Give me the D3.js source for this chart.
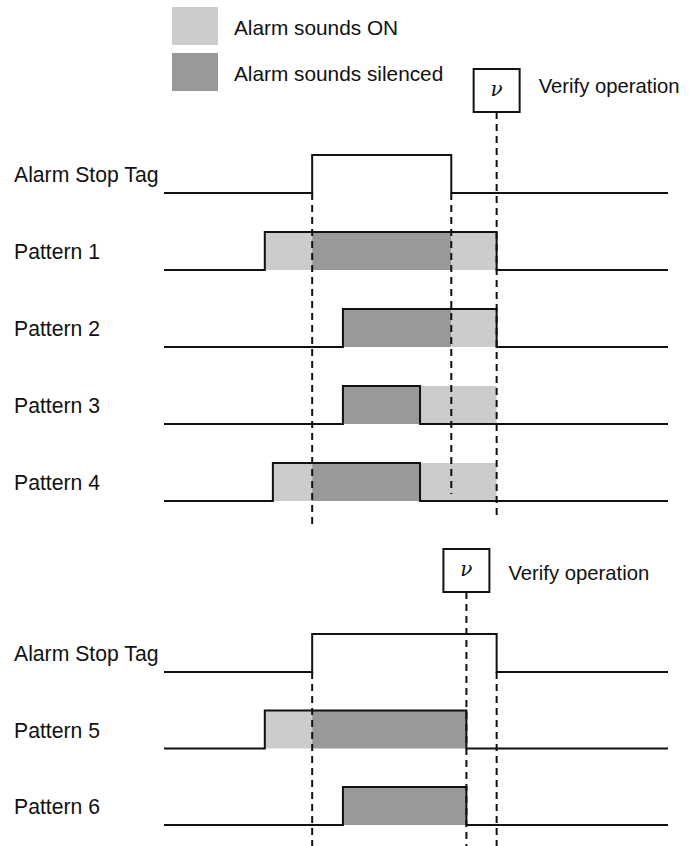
<!DOCTYPE html>
<html>
<head>
<meta charset="utf-8">
<script src="https://cdn.jsdelivr.net/npm/d3@7"></script>
<style>
  body { margin: 0; background: #fff; }
  svg text { font-family: "Liberation Sans", Arial, sans-serif; fill: #111; }
</style>
</head>
<body>
<svg id="chart" width="689" height="846"></svg>
<script>
// Legend
var legendKeys = ["on", "silenced"];
var legendLabels = ["Alarm sounds ON", "Alarm sounds silenced"];
var fillColors = {on: "#cccccc", silenced: "#999999"};

// Upper timing diagram (time axis runs 0..100)
var topRows = ["Alarm Stop Tag", "Pattern 1", "Pattern 2", "Pattern 3", "Pattern 4"];
var topHigh = [[29.4, 57], [20, 66], [35.5, 66], [35.5, 50.8], [21.6, 50.8]];
var topFills = [
  [],
  [["on", 20, 29.4], ["silenced", 29.4, 57], ["on", 57, 66]],
  [["silenced", 35.5, 57], ["on", 57, 66]],
  [["silenced", 35.5, 50.8], ["on", 50.8, 66]],
  [["on", 21.6, 29.4], ["silenced", 29.4, 50.8], ["on", 50.8, 66]]
];
var topVerify = 66;

// Lower timing diagram
var bottomRows = ["Alarm Stop Tag", "Pattern 5", "Pattern 6"];
var bottomHigh = [[29.4, 66], [20, 60], [35.5, 60]];
var bottomFills = [
  [],
  [["on", 20, 29.4], ["silenced", 29.4, 60]],
  [["silenced", 35.5, 60]]
];
var bottomVerify = 60;

var verifyLabel = "Verify operation";

var svg = d3.select("#chart");
var x = d3.scaleLinear().domain([0, 100]).range([164, 668]);
var sigHeight = 38;

// legend boxes
var legend = svg.append("g");
legend.selectAll("rect").data(legendKeys).enter().append("rect")
  .attr("x", 172)
  .attr("y", function(d, i){ return 7 + i * 46; })
  .attr("width", 46)
  .attr("height", 38)
  .style("fill", function(d){ return fillColors[d]; });
legend.selectAll("text").data(legendLabels).enter().append("text")
  .attr("x", 234)
  .attr("y", function(d, i){ return 35 + i * 46; })
  .style("font-size", "20.8px")
  .text(function(d){ return d; });

function drawPanel(rows, high, fills, verify, opt){
  var g = svg.append("g");
  var y = d3.scaleLinear().domain([0, rows.length - 1]).range([opt.firstLow, opt.lastLow]);

  var line = d3.line()
    .x(function(d){ return x(d[0]); })
    .y(function(d){ return d[1]; });

  rows.forEach(function(label, i){
    var low = y(i), top = low - sigHeight;

    // shaded states
    g.selectAll(null).data(fills[i]).enter().append("rect")
      .attr("x", function(d){ return x(d[1]); })
      .attr("y", top)
      .attr("width", function(d){ return x(d[2]) - x(d[1]); })
      .attr("height", sigHeight)
      .style("fill", function(d){ return fillColors[d[0]]; });

    // signal trace
    var h = high[i];
    g.append("path")
      .attr("d", line([[0, low], [h[0], low], [h[0], top], [h[1], top], [h[1], low], [100, low]]))
      .style("fill", "none")
      .style("stroke", "#111")
      .style("stroke-width", 2);

    g.append("text")
      .attr("x", 14)
      .attr("y", low - 11)
      .style("font-size", "21.2px")
      .text(label);
  });

  // dashed guide lines
  var stopLow = y(0);
  var guides = [
    {t: high[0][0], y1: stopLow, y2: opt.dashEnd[0]},
    {t: opt.secondEdge, y1: stopLow, y2: opt.dashEnd[1]},
    {t: verify, y1: opt.boxTop + 43, y2: opt.dashEnd[2]}
  ];
  g.selectAll(null).data(guides).enter().append("line")
    .attr("x1", function(d){ return x(d.t); })
    .attr("x2", function(d){ return x(d.t); })
    .attr("y1", function(d){ return d.y1; })
    .attr("y2", function(d){ return d.y2; })
    .style("stroke", "#111")
    .style("stroke-width", 2)
    .style("stroke-dasharray", "7,5");

  // verify box
  g.append("rect")
    .attr("x", x(verify) - 23)
    .attr("y", opt.boxTop)
    .attr("width", 46)
    .attr("height", 43)
    .style("fill", "#fff")
    .style("stroke", "#111")
    .style("stroke-width", 2);
  g.append("text")
    .attr("x", x(verify))
    .attr("y", opt.boxTop + 27)
    .attr("text-anchor", "middle")
    .style("font-family", "'DejaVu Serif', 'Liberation Serif', serif")
    .style("font-style", "italic")
    .style("font-size", "20px")
    .text("\u03bd");
  g.append("text")
    .attr("x", x(verify) + 42)
    .attr("y", opt.labelY)
    .style("font-size", "20.3px")
    .text(verifyLabel);
}

drawPanel(topRows, topHigh, topFills, topVerify, {
  firstLow: 193, lastLow: 501, boxTop: 69, labelY: 93,
  secondEdge: topHigh[0][1], dashEnd: [525, 494, 520]
});
drawPanel(bottomRows, bottomHigh, bottomFills, bottomVerify, {
  firstLow: 672, lastLow: 825, boxTop: 549, labelY: 580,
  secondEdge: bottomHigh[0][1], dashEnd: [846, 846, 846]
});
</script>
</body>
</html>
